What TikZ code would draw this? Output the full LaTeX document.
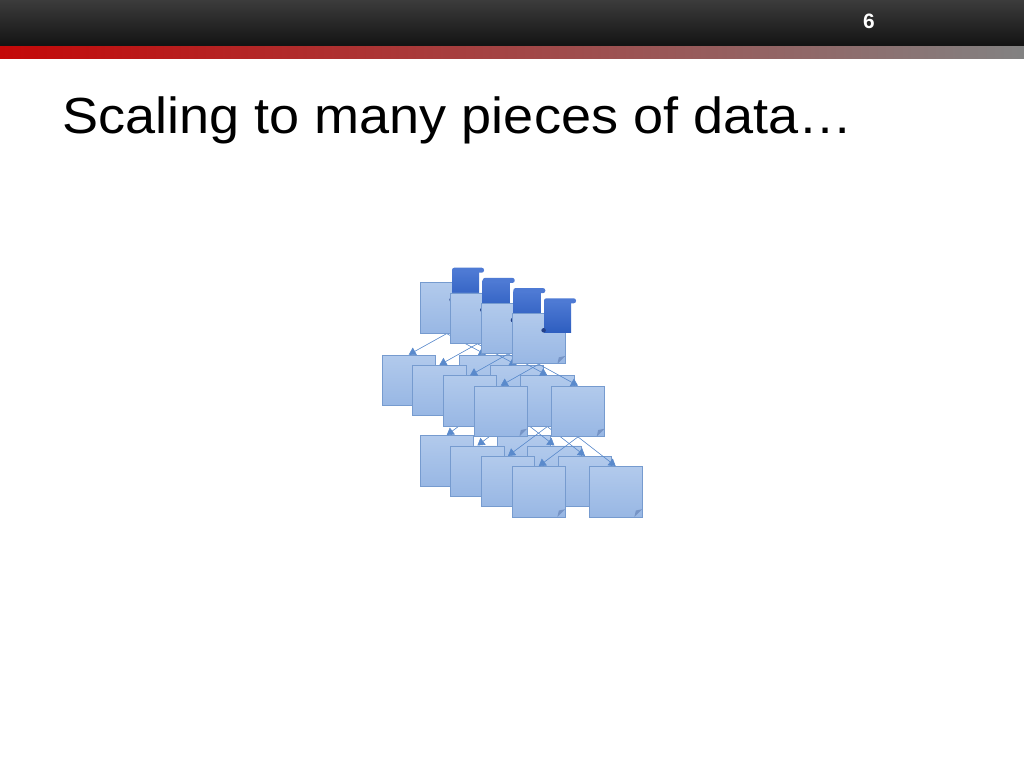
\documentclass[tikz,border=0pt]{standalone}
\usepackage{fontspec}
\setmainfont{Liberation Sans}
\usepackage{tikz}
\usetikzlibrary{arrows.meta}
\usetikzlibrary{shapes.misc}
\usetikzlibrary{calc}
\definecolor{sheetTop}{RGB}{178,202,236}
\definecolor{sheetBot}{RGB}{152,183,228}
\definecolor{sheetLine}{RGB}{118,155,207}
\definecolor{foldCol}{RGB}{118,148,198}
\definecolor{rollTop}{RGB}{78,122,212}
\definecolor{rollBot}{RGB}{46,94,192}
\definecolor{rollDot}{RGB}{36,64,136}
\definecolor{linkCol}{RGB}{90,138,204}
\definecolor{hdTop}{RGB}{60,60,60}
\definecolor{hdBot}{RGB}{18,18,18}
\definecolor{barRed}{RGB}{196,8,8}
\definecolor{barRose}{RGB}{178,84,94}
\definecolor{barGray}{RGB}{130,130,130}
\pgfdeclarelayer{bg}
\pgfdeclarelayer{low}
\pgfdeclarelayer{lowlinks}
\pgfdeclarelayer{mid}
\pgfdeclarelayer{midlinks}
\pgfsetlayers{bg,low,lowlinks,mid,midlinks,main}
\tikzset{sheet/.style={chamfered rectangle, chamfered rectangle corners=south east,
    chamfered rectangle xsep=5.6pt, chamfered rectangle ysep=5.6pt,
    inner sep=0pt, minimum width=37.8pt, minimum height=35.9pt,
    draw=sheetLine, line width=0.5pt, top color=sheetTop, bottom color=sheetBot,
    path picture={\fill[foldCol] ($(path picture bounding box.south east)+(-5.6pt,0pt)$)
      -- ($(path picture bounding box.south east)+(0pt,5.6pt)$)
      -- ($(path picture bounding box.south east)+(-4.6pt,4.6pt)$) -- cycle;}}}
\tikzset{link/.style={-{Triangle[length=5pt,width=6pt]}, draw=linkCol, fill=linkCol, line width=0.4pt}}
\newcommand{\roll}[1]{%
  \begin{scope}[shift={(#1)}]
    \shade[top color=rollTop, bottom color=rollBot] (3,3) rectangle (30,34);
    \fill[rollTop, rounded corners=1.6pt] (3,0) rectangle (35,5);
    \fill[rollDot] (2.6,32) circle (1.6pt);
  \end{scope}}

\begin{document}
\begin{tikzpicture}[x=0.025cm,y=-0.025cm]
  \useasboundingbox (0,0) rectangle (1024,768);
  \begin{pgfonlayer}{bg}
    \fill[white] (0,0) rectangle (1024,768);
  \end{pgfonlayer}
  % header
  \shade[top color=hdTop, bottom color=hdBot] (0,0) rectangle (1024,46.7);
  \shade[left color=barRed, middle color=barRose, right color=barGray] (0,46.7) rectangle (1024,59);
  \node[white, font=\bfseries\fontsize{14.8}{15}\selectfont] (pagenum) at (869,21) {6};
  \node[anchor=base west, inner sep=0pt, xscale=1.065, font=\fontsize{36.1}{40}\selectfont] (title) at (62,133.5) {Scaling to many pieces of data…};

  % bottom row
  \begin{pgfonlayer}{low}
    \node[sheet] (lowL1) at (446.7,460.8) {};
    \node[sheet] (lowR1) at (523.7,460.8) {};
    \node[sheet] (lowL2) at (477.4,471.1) {};
    \node[sheet] (lowR2) at (554.4,471.1) {};
    \node[sheet] (lowL3) at (508.0,481.5) {};
    \node[sheet] (lowR3) at (585.0,481.5) {};
    \node[sheet] (lowL4) at (538.7,491.8) {};
    \node[sheet] (lowR4) at (615.7,491.8) {};
  \end{pgfonlayer}

  % middle row
  \begin{pgfonlayer}{mid}
    \node[sheet] (midL1) at (408.7,380.3) {};
    \node[sheet] (midR1) at (486.0,380.3) {};
    \node[sheet] (midL2) at (439.4,390.6) {};
    \node[sheet] (midR2) at (516.7,390.6) {};
    \node[sheet] (midL3) at (470.0,401.0) {};
    \node[sheet] (midR3) at (547.3,401.0) {};
    \node[sheet] (midL4) at (500.7,411.3) {};
    \node[sheet] (midR4) at (578.0,411.3) {};
  \end{pgfonlayer}

  % middle -> bottom
  \begin{pgfonlayer}{lowlinks}
    \path (midR1.south) edge [link] (lowL1.north) edge [link] (lowR1.north);
    \path (midR2.south) edge [link] (lowL2.north) edge [link] (lowR2.north);
    \path (midR3.south) edge [link] (lowL3.north) edge [link] (lowR3.north);
    \path (midR4.south) edge [link] (lowL4.north) edge [link] (lowR4.north);
  \end{pgfonlayer}

  % top row with scrolls
  \node[sheet] (top1) at (446.7,308.0) {};
  \roll{449,267.7}
  \node[sheet] (top2) at (477.4,318.2) {};
  \roll{479.7,277.9}
  \node[sheet] (top3) at (508.0,328.4) {};
  \roll{510.3,288.1}
  \node[sheet] (top4) at (538.7,338.6) {};
  \roll{541,298.3}

  % top -> middle
  \begin{pgfonlayer}{midlinks}
    \path (top1.south) edge [link] (midL1.north) edge [link] (midR1.north);
    \path (top2.south) edge [link] (midL2.north) edge [link] (midR2.north);
    \path (top3.south) edge [link] (midL3.north) edge [link] (midR3.north);
    \path (top4.south) edge [link] (midL4.north) edge [link] (midR4.north);
  \end{pgfonlayer}
\end{tikzpicture}
\end{document}
